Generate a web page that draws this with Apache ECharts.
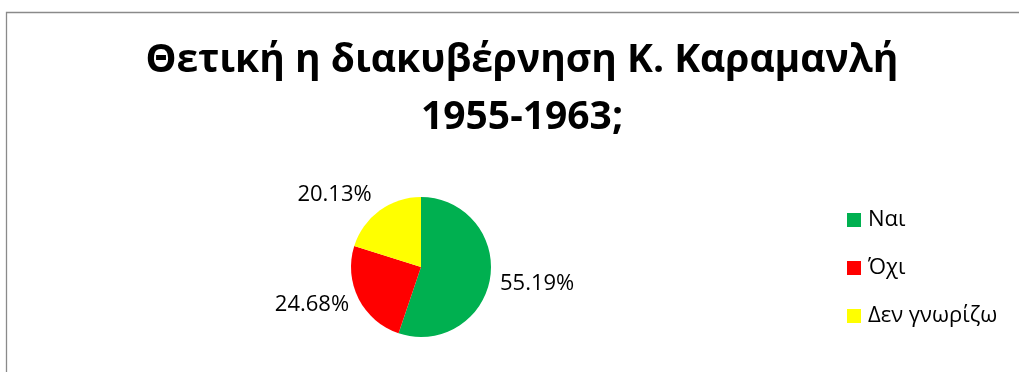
<!DOCTYPE html>
<html>
<head>
<meta charset="utf-8">
<script src="https://cdn.jsdelivr.net/npm/echarts@6/dist/echarts.min.js"></script>
<style>
  html, body { margin: 0; padding: 0; background: #fff; }
  #chart { width: 1019px; height: 372px; }
</style>
</head>
<body>
<div id="chart"></div>
<script>
// Survey answers (percent of respondents)
const categories = ['Ναι', 'Όχι', 'Δεν γνωρίζω'];
const shares = [55.19, 24.68, 20.13];
const colors = ['#00B050', '#FF0000', '#FFFF00'];
const titleText = 'Θετική η διακυβέρνηση Κ. Καραμανλή\n1955-1963;';

const FONT = '"Open Sans", "Noto Sans", sans-serif';

// Small vertical nudges so each outside label sits off its slice's outer corner
const labelNudgeY = [5, 4, -12];

const chart = echarts.init(document.getElementById('chart'), null, { renderer: 'canvas' });

const pieData = categories.map((name, i) => ({
  name,
  value: shares[i],
  itemStyle: { color: colors[i] }
}));

chart.setOption({
  animation: false,
  backgroundColor: '#fff',
  graphic: [{
    type: 'rect',
    shape: { x: 6.5, y: 12.5, width: 1040, height: 400 },
    style: { fill: 'none', stroke: '#8a8a8a', lineWidth: 1.3 },
    silent: true
  }],
  title: {
    text: titleText,
    left: 517,
    top: 27,
    textAlign: 'center',
    textStyle: {
      fontFamily: FONT,
      fontWeight: 'bold',
      fontSize: 39,
      lineHeight: 57,
      color: '#000'
    }
  },
  legend: {
    orient: 'vertical',
    left: 847,
    top: 208,
    padding: 0,
    icon: 'rect',
    itemWidth: 14,
    itemHeight: 14,
    itemGap: 24,
    data: categories,
    textStyle: {
      fontFamily: FONT,
      fontSize: 22,
      lineHeight: 24,
      color: '#000',
      padding: [0, 0, 0, 2]
    }
  },
  series: [{
    type: 'pie',
    center: [421, 267],
    radius: 70,
    startAngle: 90,
    clockwise: true,
    avoidLabelOverlap: false,
    data: pieData,
    label: {
      show: true,
      position: 'outside',
      formatter: p => p.value.toFixed(2) + '%',
      fontFamily: FONT,
      fontSize: 22,
      color: '#000'
    },
    labelLine: { show: false, length: 5, length2: 0 },
    labelLayout: p => ({ dy: labelNudgeY[p.dataIndex] }),
    emphasis: { disabled: true }
  }]
});
</script>
</body>
</html>
